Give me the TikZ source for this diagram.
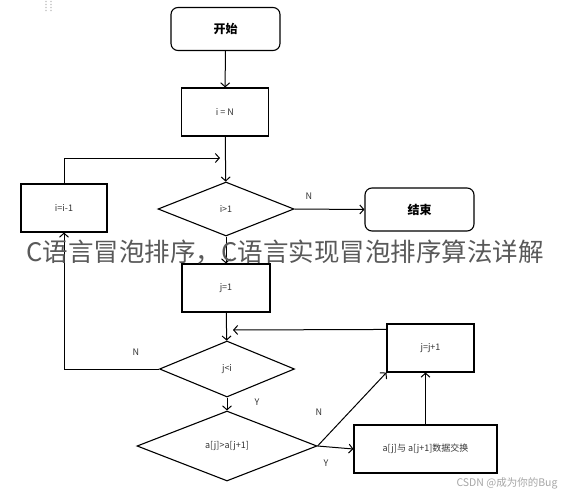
\documentclass[tikz,border=0pt]{standalone}
\usepackage{fontspec}
\setmainfont{Noto Sans CJK SC}
\usetikzlibrary{shapes.geometric,arrows.meta}
\tikzset{
  stepbox/.style={draw,rectangle,line width=1.1pt,text=black!80,font=\fontsize{9}{10}\selectfont},
  termbox/.style={draw,rectangle,rounded corners=7pt,line width=1.1pt,font=\fontsize{12}{14}\selectfont\bfseries},
  testbox/.style={draw,diamond,inner sep=0pt,line width=1.1pt,text=black!80,font=\fontsize{9}{10}\selectfont},
  lbl/.style={text=black!80,font=\fontsize{9}{10}\selectfont},
}
\begin{document}
\begin{tikzpicture}[x=1pt,y=-1pt,>={Straight Barb[length=4pt,width=9pt]},line width=1pt]
      \useasboundingbox[fill=white] (0,0) rectangle (571,490);
      \foreach \dy in {1.5,4.5,7.5,10.5} {
        \fill[gray!45] (46,\dy) circle (0.9pt) (51,\dy) circle (0.9pt);
      }
      \node[termbox,minimum width=109pt,minimum height=43pt] (start) at (225.5,29) {开始};
      \node[stepbox,minimum width=87pt,minimum height=48pt] (initI) at (225,112) {i = N};
      \node[testbox,minimum width=136pt,minimum height=54pt] (testI) at (226,209) {i>1};
      \node[stepbox,minimum width=86pt,minimum height=48pt] (decI) at (64,208) {i=i-1};
      \node[termbox,minimum width=109pt,minimum height=43pt] (finish) at (419.5,209.5) {结束};
      \node[stepbox,minimum width=88pt,minimum height=48pt] (initJ) at (226,288) {j=1};
      \node[testbox,minimum width=135pt,minimum height=56pt] (testJ) at (227,369) {j<i};
      \node[testbox,minimum width=180pt,minimum height=70pt] (cmp) at (227,446) {a[j]>a[j+1]};
      \node[stepbox,minimum width=87pt,minimum height=48pt] (incJ) at (430.5,348) {j=j+1};
      \node[stepbox,minimum width=143pt,minimum height=48pt] (swap) at (425.5,449) {a[j]与 a[j+1]数据交换};
      \coordinate (loopI) at (220,158);
      \coordinate (loopJ) at (233,330);
      \begin{scope}[->]
        \draw (start) to (initI);
        \draw (initI) to (testI);
        \draw (decI.north) |- (loopI);
        \draw (testI.east) to (finish.west);
        \draw (testI) to (initJ);
        \draw (initJ) to (testJ);
        \draw ([yshift=-6pt]incJ.north west) to (loopJ);
        \draw (testJ.west) -| (decI.south);
        \draw (testJ.south) to (cmp.north);
        \draw (cmp.east) to (swap.west);
        \draw (cmp.east) to (incJ.south west);
        \draw (swap.north) to (swap.north|-incJ.south);
      \end{scope}
      \node[lbl] (nI) at (309,196) {N};
      \node[lbl] (nJ) at (136,352) {N};
      \node[lbl] (yJ) at (257,402) {Y};
      \node[lbl] (nC) at (319,412) {N};
      \node[lbl] (yC) at (326,463) {Y};
      \node[text=black!65,font=\fontsize{25.5}{28}\selectfont] (title) at (285,252) {C语言冒泡排序，C语言实现冒泡排序算法详解};
      \node[text=black!35,font=\fontsize{10.5}{12}\selectfont] (mark) at (507,483) {CSDN @成为你的Bug};
    \end{tikzpicture}
\end{document}
